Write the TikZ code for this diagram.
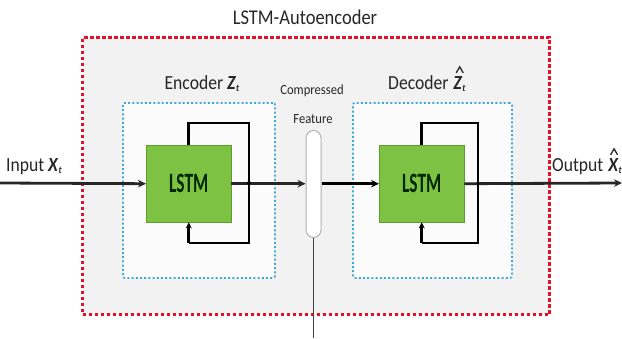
\documentclass[tikz,border=0pt]{standalone}
\usepackage{fontspec}
\setmainfont{Carlito}
\newfontfamily\lblfont{Carlito}[FakeStretch=0.88]
\newfontfamily\lstmfont{Carlito}[FakeStretch=0.62]
\newfontfamily\capfont{Carlito}[FakeStretch=0.9]
\usetikzlibrary{arrows.meta}
\definecolor{lgreen}{HTML}{7DC242}
\definecolor{dgreen}{HTML}{5E9A2E}
\definecolor{cyanish}{HTML}{3FA9D6}
\definecolor{redd}{HTML}{E0112B}
\definecolor{txt}{HTML}{262626}
\newcommand{\bisub}{\raisebox{-0.25ex}{\fontsize{10}{10}\selectfont\textbf{\textit{t}}}}
\tikzset{
  lstm/.style={draw=dgreen, fill=lgreen, minimum width=85pt, minimum height=77pt, font=\lstmfont\fontsize{28}{28}\selectfont\bfseries, text=black!85!green, inner sep=0pt},
  flow/.style={draw=txt, line width=2.8pt, -{Stealth[length=8pt,width=7.5pt]}},
  loop/.style={draw=black, line width=2.6pt},
  bluebox/.style={draw=cyanish, line width=1.8pt, dash pattern=on 2pt off 2.2pt, fill=gray!3, rounded corners=2pt},
  redbox/.style={draw=redd, line width=3pt, dash pattern=on 3.4pt off 2.6pt, fill=gray!10},
  lbl/.style={text=txt, font=\lblfont\fontsize{20}{20}\selectfont, inner sep=0pt},
  hatmark/.style={draw=txt, line width=1.3pt, line join=miter},
}
\begin{document}
\begin{tikzpicture}[x=1pt,y=-1pt]
\useasboundingbox (0,0) rectangle (622,338);
% outer red box
\node[redbox, minimum width=467pt, minimum height=277pt, anchor=north west] (outer) at (81,36) {};
\node[lbl, font=\lblfont\fontsize{21}{21}\selectfont] (title) at (305,17) {LSTM-Autoencoder};
% blue boxes
\node[bluebox, minimum width=152pt, minimum height=175pt, anchor=north west] (encbox) at (122,102) {};
\node[bluebox, minimum width=159pt, minimum height=175pt, anchor=north west] (decbox) at (352,102) {};
\node[lbl, anchor=base] (enclbl) at (202,89) {Encoder \textbf{\textit{Z}}\bisub};
\node[lbl, anchor=base west] (declbl) at (388,89) {Decoder};
\node[lbl, anchor=base west] (decz) at ([xshift=4.5pt]declbl.base east) {\textbf{\textit{Z}}\bisub};
\draw[hatmark] ([xshift=3pt,yshift=3pt]decz.north west) -- ++(3.5,-6) -- ++(3.5,6);
% LSTM nodes
\node[lstm, anchor=north west] (enc) at (146,145) {LSTM};
\node[lstm, anchor=north west] (dec) at (379,145) {LSTM};
% capsule
\node[draw=gray!60, fill=white, line width=1pt, rounded corners=7.5pt, minimum width=15pt, minimum height=107pt, anchor=north, inner sep=0pt] (cap) at (313.5,130) {};
\node[text=txt, font=\capfont\fontsize{14}{14}\selectfont, inner sep=0pt] (caplbl1) at (312,91) {Compressed};
\node[text=txt, font=\capfont\fontsize{14}{14}\selectfont, inner sep=0pt] (caplbl2) at (313,119) {Feature};
% bottom line
\coordinate (bot) at (313.5,338);
\draw[draw=gray!50!black, line width=1.4pt] (cap.south) -- (bot);
% input / output
\coordinate (in) at (0,183);
\coordinate (out) at (622,183);
\node[lbl, anchor=base west] (inlbl) at (6,171) {Input \textbf{\textit{X}}\bisub};
\node[lbl, anchor=base west] (outlbl) at (552,171) {Output};
\node[lbl, anchor=base west] (outx) at ([xshift=4.5pt]outlbl.base east) {\textbf{\textit{X}}\bisub};
\draw[hatmark] ([xshift=2.5pt,yshift=3pt]outx.north west) -- ++(3.5,-6) -- ++(3.5,6);
\draw[flow] (in) -- (enc.west);
\draw[flow, draw=black!85] (enc.east) -- (cap.west |- enc.east);
\draw[flow, draw=black] (cap.east |- dec.west) -- (dec.west);
\draw[flow] (dec.east) -- (out);
% loops
\draw[loop] (enc.north) -- ++(0,-22) -| (249,183) |- (enc.south |- 0,243) edge[-{Stealth[length=6pt,width=6pt]}] (enc.south);
\draw[loop] (dec.north) -- ++(0,-22) -| (478,183) |- (dec.south |- 0,243) edge[-{Stealth[length=6pt,width=6pt]}] (dec.south);
\fill[black] (249,183) circle (2pt);
\end{tikzpicture}
\end{document}
